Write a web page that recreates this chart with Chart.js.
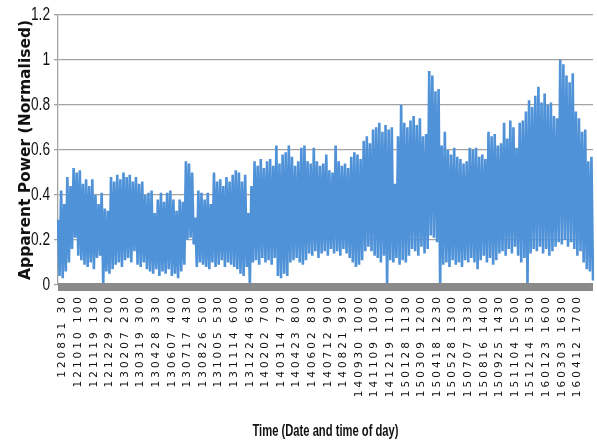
<!DOCTYPE html>
<html>
<head>
<meta charset="utf-8">
<script src="https://cdn.jsdelivr.net/npm/chart.js@4/dist/chart.umd.min.js"></script>
<style>
  html, body { margin: 0; padding: 0; background: #fff; }
  #wrap { width: 597px; height: 446px; position: relative; }
</style>
</head>
<body>
<div id="wrap"><canvas id="chartContainer"></canvas></div>
<script>
// upper and lower swing of the apparent power trace, one pair per sample step
var peaks = [
  0.29, 0.42, 0.36, 0.48, 0.44, 0.52, 0.50, 0.51, 0.45, 0.47,
  0.44, 0.47, 0.40, 0.36, 0.41, 0.34, 0.33, 0.48, 0.46, 0.49,
  0.47, 0.50, 0.48, 0.49, 0.46, 0.48, 0.45, 0.46, 0.40, 0.41,
  0.42, 0.32, 0.38, 0.41, 0.37, 0.41, 0.42, 0.38, 0.33, 0.38,
  0.37, 0.55, 0.54, 0.50, 0.30, 0.42, 0.41, 0.38, 0.41, 0.36,
  0.50, 0.46, 0.47, 0.44, 0.48, 0.46, 0.49, 0.51, 0.50, 0.46,
  0.49, 0.32, 0.44, 0.55, 0.53, 0.56, 0.52, 0.55, 0.56, 0.53,
  0.62, 0.54, 0.58, 0.59, 0.62, 0.57, 0.53, 0.55, 0.61, 0.62,
  0.55, 0.54, 0.61, 0.55, 0.53, 0.54, 0.58, 0.51, 0.50, 0.62,
  0.55, 0.53, 0.54, 0.52, 0.57, 0.59, 0.58, 0.56, 0.64, 0.66,
  0.63, 0.69, 0.70, 0.72, 0.68, 0.71, 0.69, 0.70, 0.45, 0.66,
  0.80, 0.72, 0.70, 0.73, 0.75, 0.71, 0.74, 0.66, 0.67, 0.95,
  0.93, 0.86, 0.87, 0.62, 0.68, 0.60, 0.58, 0.61, 0.57, 0.56,
  0.54, 0.55, 0.61, 0.60, 0.61, 0.57, 0.58, 0.56, 0.68, 0.66,
  0.67, 0.62, 0.63, 0.72, 0.65, 0.73, 0.70, 0.61, 0.72, 0.73,
  0.77, 0.82, 0.79, 0.84, 0.88, 0.81, 0.85, 0.80, 0.81, 0.75,
  0.74, 1.00, 0.98, 0.93, 0.90, 0.94, 0.77, 0.74, 0.68, 0.69,
  0.55, 0.57
];
var troughs = [
  0.04, 0.03, 0.06, 0.10, 0.16, 0.21, 0.13, 0.11, 0.09, 0.08,
  0.10, 0.07, 0.12, 0.13, 0.00, 0.06, 0.05, 0.07, 0.09, 0.10,
  0.08, 0.11, 0.12, 0.10, 0.15, 0.09, 0.08, 0.10, 0.07, 0.06,
  0.05, 0.07, 0.04, 0.06, 0.05, 0.07, 0.04, 0.05, 0.03, 0.06,
  0.09, 0.20, 0.21, 0.18, 0.08, 0.10, 0.09, 0.08, 0.07, 0.10,
  0.08, 0.09, 0.11, 0.08, 0.10, 0.09, 0.08, 0.07, 0.05, 0.04,
  0.08, 0.00, 0.10, 0.11, 0.09, 0.12, 0.10, 0.11, 0.09, 0.12,
  0.04, 0.03, 0.05, 0.04, 0.10, 0.11, 0.12, 0.10, 0.09, 0.11,
  0.14, 0.13, 0.15, 0.12, 0.14, 0.15, 0.13, 0.16, 0.14, 0.15,
  0.13, 0.16, 0.14, 0.12, 0.10, 0.08, 0.09, 0.11, 0.15, 0.17,
  0.15, 0.13, 0.12, 0.10, 0.13, 0.00, 0.11, 0.10, 0.12, 0.09,
  0.11, 0.10, 0.13, 0.16, 0.15, 0.13, 0.17, 0.14, 0.16, 0.22,
  0.21, 0.19, 0.00, 0.09, 0.10, 0.08, 0.11, 0.09, 0.10, 0.08,
  0.11, 0.10, 0.12, 0.10, 0.07, 0.11, 0.13, 0.10, 0.12, 0.09,
  0.11, 0.14, 0.15, 0.13, 0.16, 0.14, 0.17, 0.13, 0.10, 0.12,
  0.00, 0.14, 0.16, 0.15, 0.17, 0.14, 0.16, 0.13, 0.15, 0.17,
  0.19, 0.18, 0.20, 0.17, 0.19, 0.16, 0.13, 0.15, 0.10, 0.07,
  0.06, 0.02
];

// date (yymmdd) and time of day shown under the axis
var tickLabels = [
  '120831 30', '121010 100', '121119 130', '121229 200', '130207 230',
  '130319 300', '130428 330', '130607 400', '130717 430', '130826 500',
  '131005 530', '131114 600', '131224 630', '140202 700', '140314 730',
  '140423 800', '140602 830', '140712 900', '140821 930', '140930 1000',
  '141109 1030', '141219 1100', '150128 1130', '150309 1200', '150418 1230',
  '150528 1300', '150707 1330', '150816 1400', '150925 1430', '151104 1500',
  '151214 1530', '160123 1600', '160303 1630', '160412 1700'
];
var yTicks = [0, 0.2, 0.4, 0.6, 0.8, 1, 1.2];

var firstLabelAt = 3;
var labelEvery = 10;

var series = [];
for (var i = 0; i < peaks.length; i++) {
  series.push(peaks[i], troughs[i]);
}
var labels = series.map(function(v, idx) {
  var k = idx - firstLabelAt;
  if (k >= 0 && k % labelEvery === 0 && tickLabels[k / labelEvery] !== undefined) {
    return tickLabels[k / labelEvery];
  }
  return '';
});

var gridGrey = '#a3a3a3';

// draw a scale part squeezed horizontally about a fixed x
function squeeze(scale, method, k, anchor) {
  var orig = scale[method];
  scale[method] = function(a) {
    var c = this.ctx, cx = anchor(this);
    c.save();
    c.translate(cx, 0);
    c.scale(k, 1);
    c.translate(-cx, 0);
    orig.call(this, a);
    c.restore();
  };
}

var axisBar = {
  id: 'axisBar',
  beforeDraw: function(chart) {
    var sx = chart.scales.x, sy = chart.scales.y;
    if (sx._patched) return;
    var origLabels = sx.drawLabels;
    sx.drawLabels = function(area) {
      var c = this.ctx;
      c.save();
      c.letterSpacing = '3px';
      origLabels.call(this, area);
      c.restore();
    };
    squeeze(sx, 'drawTitle', 0.7, function(s) { return (s.left + s.right) / 2; });
    squeeze(sy, 'drawLabels', 0.76, function(s) { return s.right - 8; });
    sx._patched = true;
  },
  afterDatasetsDraw: function(chart) {
    var a = chart.chartArea;
    var ctx = chart.ctx;
    ctx.save();
    ctx.fillStyle = '#8a8a8a';
    ctx.fillRect(a.left, a.bottom - 2, a.right - a.left, 8);
    ctx.restore();
  }
};

var ctx = document.getElementById('chartContainer').getContext('2d');
var myChart = new Chart(ctx, {
  type: 'line',
  data: {
    labels: labels,
    datasets: [{
      label: 'Apparent Power',
      data: series,
      borderColor: '#4f92d8',
      borderWidth: 2.6,
      borderJoinStyle: 'bevel',
      pointRadius: 0,
      tension: 0,
      fill: false
    }]
  },
  options: {
    responsive: true,
    maintainAspectRatio: false,
    animation: false,
    events: [],
    layout: { padding: { top: 2, right: 4, bottom: 0, left: 0 } },
    plugins: {
      legend: { display: false },
      tooltip: { enabled: false }
    },
    scales: {
      x: {
        type: 'category',
        grid: { display: false, drawTicks: false },
        border: { display: false },
        ticks: {
          autoSkip: false,
          minRotation: 90,
          maxRotation: 90,
          padding: 9,
          color: '#111',
          font: { family: 'DejaVu Sans', size: 10.5 },
          callback: function(value, index) { return labels[index]; }
        },
        title: {
          display: true,
          text: 'Time (Date and time of day)',
          color: '#111',
          font: { family: '"Liberation Sans", Arial, sans-serif', size: 16, weight: 'bold' },
          padding: { top: 0, bottom: 5 }
        },
        afterFit: function(s) {
          s.height = 161;
          s.paddingLeft = 0;
          s.paddingRight = 0;
        }
      },
      y: {
        min: 0,
        max: 1.2,
        afterBuildTicks: function(s) {
          s.ticks = yTicks.map(function(v) { return { value: v }; });
        },
        grid: { color: gridGrey, lineWidth: 1.3, tickLength: 4, tickColor: gridGrey },
        border: { display: true, color: gridGrey, width: 1.3 },
        ticks: {
          padding: 4,
          color: '#111',
          font: { family: '"Liberation Sans", Arial, sans-serif', size: 18 },
          callback: function(value) { return String(value); }
        },
        title: {
          display: true,
          text: 'Apparent Power (Normalised)',
          color: '#111',
          font: { family: 'DejaVu Sans', size: 15.5, weight: 'bold' },
          padding: { top: 17, bottom: 0 }
        },
        afterFit: function(s) { s.width = 58; }
      }
    }
  },
  plugins: [axisBar]
});
</script>
</body>
</html>
